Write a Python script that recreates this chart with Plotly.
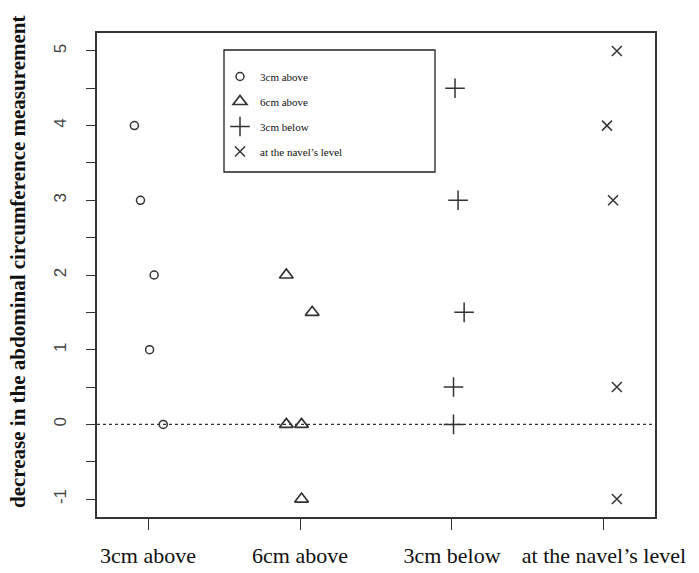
import plotly.graph_objects as go

categories = ["3cm above", "6cm above", "3cm below", "at the navel\u2019s level"]
cat_pos = [1, 2, 3, 4]

above3_x = [0.91, 0.95, 1.04, 1.01, 1.10]
above3_y = [4, 3, 2, 1, 0]
above6_x = [1.91, 2.08, 1.91, 2.01, 2.01]
above6_y = [2, 1.5, 0, 0, -1]
below3_x = [3.02, 3.04, 3.08, 3.01, 3.01]
below3_y = [4.5, 3, 1.5, 0.5, 0]
navel_x = [4.085, 4.02, 4.06, 4.085, 4.085]
navel_y = [5, 4, 3, 0.5, -1]

y_ticks = [-1, -0.5, 0, 0.5, 1, 1.5, 2, 2.5, 3, 3.5, 4, 4.5, 5]
y_labels = [str(int(v)) if v == int(v) else "" for v in y_ticks]
y_title = "decrease in the abdominal circumference measurement"

ink = "#333333"
fig = go.Figure()
series = [
    (above3_x, above3_y, "3cm above", "circle-open", 8, 1.5),
    (above6_x, above6_y, "6cm above", "triangle-up-open", 12, 1.7),
    (below3_x, below3_y, "3cm below", "cross-thin-open", 14, 1.5),
    (navel_x, navel_y, "at the navel\u2019s level", "x-thin-open", 10, 1.5),
]
for i, (xs, ys, name, sym, size, lw) in enumerate(series):
    fig.add_trace(go.Scatter(
        x=xs, y=ys, mode="markers", name=name, legendgroup=f"g{i}",
        marker=dict(symbol=sym, size=size, color=ink, line=dict(color=ink, width=lw)),
    ))

fig.add_shape(type="line", xref="paper", x0=0, x1=1, yref="y", y0=0, y1=0,
              line=dict(color=ink, width=1.2, dash="dot"), layer="below")
# legend box
fig.add_shape(type="rect", xref="paper", yref="paper",
              x0=(224 - 97) / 558, x1=(435 - 97) / 558,
              y0=(517 - 172) / 484, y1=(517 - 50) / 484,
              line=dict(color="#222222", width=1.3), fillcolor="rgba(0,0,0,0)")

fig.add_annotation(
    text="<b>" + y_title + "</b>", textangle=-90,
    xref="paper", yref="paper", x=0, y=(517 - 262) / 484,
    xanchor="center", yanchor="middle", xshift=-79, showarrow=False,
    font=dict(family="Liberation Serif", size=21, color="#111111"),
)

fig.update_layout(
    width=691, height=565,
    margin=dict(l=89, r=44, t=25, b=56, autoexpand=False),
    plot_bgcolor="white", paper_bgcolor="white",
    font=dict(family="Liberation Serif", color="#111111"),
    showlegend=True,
    legend=dict(
        x=(220 - 97) / 558, y=(517 - 62) / 484, xanchor="left", yanchor="top",
        bgcolor="rgba(0,0,0,0)", borderwidth=0,
        font=dict(family="Liberation Serif", size=11, color="#111111"),
        traceorder="grouped", tracegroupgap=6, itemwidth=30,
    ),
    xaxis=dict(
        range=[0.664, 4.336], tickvals=cat_pos, ticktext=categories,
        ticks="outside", ticklen=11, tickwidth=1.3, tickcolor=ink,
        showline=True, linecolor=ink, linewidth=1.5, mirror=True,
        showgrid=False, zeroline=False, ticklabelstandoff=7, automargin=False,
        tickfont=dict(family="Liberation Serif", size=22, color="#111111"),
    ),
    yaxis=dict(
        range=[-1.24, 5.24], tickvals=y_ticks, ticktext=y_labels,
        ticks="outside", ticklen=9, tickwidth=1.3, tickcolor=ink,
        showline=True, linecolor=ink, linewidth=1.5, mirror=True,
        showgrid=False, zeroline=False, tickangle=-90, ticklabelstandoff=13,
        automargin=False,
        tickfont=dict(family="Liberation Sans", size=17, color="#444444"),
    ),
)

fig.write_html("out.html")
